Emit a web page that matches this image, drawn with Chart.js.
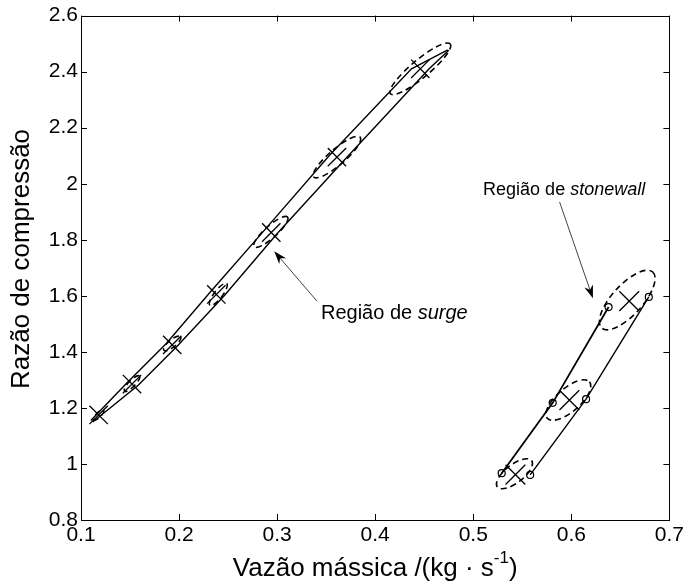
<!DOCTYPE html>
<html>
<head>
<meta charset="utf-8">
<script src="https://cdn.jsdelivr.net/npm/chart.js@4/dist/chart.umd.min.js"></script>
<style>
  html, body { margin: 0; padding: 0; background: #fff; }
</style>
</head>
<body>
<canvas id="chart" width="687" height="588"></canvas>
<script>
// ── Data ─────────────────────────────────────────────────────
const xTickValues = [0.1, 0.2, 0.3, 0.4, 0.5, 0.6, 0.7];
const yTickValues = [0.8, 1.0, 1.2, 1.4, 1.6, 1.8, 2.0, 2.2, 2.4, 2.6];

// surge region: two near-parallel lines
const surgeUpperX = [0.110, 0.147, 0.187, 0.231, 0.286, 0.353, 0.437, 0.474];
const surgeUpperY = [1.155, 1.290, 1.430, 1.610, 1.830, 2.100, 2.410, 2.478];
const surgeLowerX = [0.112, 0.158, 0.198, 0.246, 0.301, 0.370, 0.455, 0.475];
const surgeLowerY = [1.150, 1.280, 1.420, 1.600, 1.826, 2.090, 2.410, 2.476];
// surge region: estimated points (×)
const surgeCrossX = [0.118, 0.152, 0.193, 0.238, 0.294, 0.361, 0.446];
const surgeCrossY = [1.175, 1.285, 1.425, 1.605, 1.826, 2.095, 2.410];

// stonewall region: two lines with circles
const stoneLeftX  = [0.529, 0.581, 0.638];
const stoneLeftY  = [0.967, 1.218, 1.560];
const stoneRightX = [0.558, 0.615, 0.679];
const stoneRightY = [0.961, 1.231, 1.596];
const stoneCrossX = [0.543, 0.598, 0.659];
const stoneCrossY = [0.962, 1.228, 1.581];

// uncertainty ellipses: centre, half major axis (data units), minor/major ratio
const ellCx    = [0.118, 0.152, 0.193, 0.240, 0.2936, 0.361, 0.446, 0.542, 0.597, 0.657];
const ellCy    = [1.175, 1.287, 1.430, 1.605, 1.828, 2.095, 2.410, 0.965, 1.228, 1.585];
const ellAx    = [0.005, 0.0076, 0.0085, 0.0085, 0.017, 0.0237, 0.0305, 0.0175, 0.0215, 0.026];
const ellAy    = [0.017, 0.027, 0.024, 0.039, 0.053, 0.071, 0.089, 0.047, 0.065, 0.100];
const ellRatio = [0.35, 0.3, 0.35, 0.3, 0.27, 0.26, 0.23, 0.42, 0.42, 0.4];

// annotations
const noteText   = [['Região de ', 'surge'], ['Região de ', 'stonewall']];
const noteSize   = [20, 18];
const noteX      = [0.3447, 0.510];
const noteY      = [1.538, 1.976];
const arrowTailX = [0.3406, 0.588];
const arrowTailY = [1.581, 1.935];
const arrowHeadX = [0.297, 0.622];
const arrowHeadY = [1.759, 1.591];

const FONT = '"Liberation Sans", Arial, Helvetica, sans-serif';

const pts = (xs, ys) => xs.map((x, i) => ({ x, y: ys[i] }));

// ── Plugins ──────────────────────────────────────────────────

const frameTicks = {
  id: 'frameTicks',
  afterDraw(chart) {
    const { ctx, chartArea: a, scales: { x, y } } = chart;
    const len = 6;
    ctx.save();
    ctx.strokeStyle = '#000';
    ctx.lineWidth = 1;
    ctx.beginPath();
    xTickValues.forEach(v => {
      const px = Math.round(x.getPixelForValue(v)) + 0.5;
      ctx.moveTo(px, a.bottom); ctx.lineTo(px, a.bottom - len);
      ctx.moveTo(px, a.top);    ctx.lineTo(px, a.top + len);
    });
    yTickValues.forEach(v => {
      const py = Math.round(y.getPixelForValue(v)) + 0.5;
      ctx.moveTo(a.left, py);  ctx.lineTo(a.left + len, py);
      ctx.moveTo(a.right, py); ctx.lineTo(a.right - len, py);
    });
    ctx.stroke();
    ctx.strokeRect(Math.round(a.left) + 0.5, Math.round(a.top) + 0.5,
                   Math.round(a.right - a.left), Math.round(a.bottom - a.top));
    ctx.restore();
  },
};

const ellipses = {
  id: 'ellipses',
  afterDatasetsDraw(chart) {
    const { ctx, chartArea: a, scales: { x, y } } = chart;
    ctx.save();
    ctx.beginPath();
    ctx.rect(a.left, a.top, a.right - a.left, a.bottom - a.top);
    ctx.clip();
    ctx.strokeStyle = '#000';
    ctx.lineWidth = 1.6;
    ctx.setLineDash([6, 4]);
    ellCx.forEach((cx0, i) => {
      const cx = x.getPixelForValue(cx0);
      const cy = y.getPixelForValue(ellCy[i]);
      const dx = x.getPixelForValue(cx0 + ellAx[i]) - cx;
      const dy = y.getPixelForValue(ellCy[i] + ellAy[i]) - cy;
      const r = Math.hypot(dx, dy);
      ctx.beginPath();
      ctx.ellipse(cx, cy, r, r * ellRatio[i], Math.atan2(dy, dx), 0, Math.PI * 2);
      ctx.stroke();
    });
    ctx.restore();
  },
};

const notes = {
  id: 'notes',
  afterDraw(chart) {
    const { ctx, chartArea: a, scales: { x, y } } = chart;
    ctx.save();
    // arrows
    arrowTailX.forEach((tx0, i) => {
      const tx = x.getPixelForValue(tx0), ty = y.getPixelForValue(arrowTailY[i]);
      const hx = x.getPixelForValue(arrowHeadX[i]), hy = y.getPixelForValue(arrowHeadY[i]);
      const ang = Math.atan2(hy - ty, hx - tx);
      const hl = 13, hw = 4.5;
      ctx.strokeStyle = '#444';
      ctx.lineWidth = 1;
      ctx.beginPath();
      ctx.moveTo(tx, ty);
      ctx.lineTo(hx - Math.cos(ang) * hl * 0.7, hy - Math.sin(ang) * hl * 0.7);
      ctx.stroke();
      ctx.fillStyle = '#000';
      ctx.beginPath();
      ctx.moveTo(hx, hy);
      ctx.lineTo(hx - Math.cos(ang) * hl - Math.sin(ang) * hw, hy - Math.sin(ang) * hl + Math.cos(ang) * hw);
      ctx.lineTo(hx - Math.cos(ang) * hl * 0.7, hy - Math.sin(ang) * hl * 0.7);
      ctx.lineTo(hx - Math.cos(ang) * hl + Math.sin(ang) * hw, hy - Math.sin(ang) * hl - Math.cos(ang) * hw);
      ctx.closePath();
      ctx.fill();
    });
    // labels: plain part + italic part
    ctx.fillStyle = '#000';
    ctx.textBaseline = 'middle';
    ctx.textAlign = 'left';
    noteText.forEach(([plain, ital], i) => {
      let px = x.getPixelForValue(noteX[i]);
      const py = y.getPixelForValue(noteY[i]);
      ctx.font = `${noteSize[i]}px ${FONT}`;
      ctx.fillText(plain, px, py);
      px += ctx.measureText(plain).width;
      ctx.font = `italic ${noteSize[i]}px ${FONT}`;
      ctx.fillText(ital, px, py);
    });
    // x axis title with superscript
    const base = 'Vazão mássica /(kg · s', sup = '-1', tail = ')';
    ctx.font = `26px ${FONT}`;
    const w1 = ctx.measureText(base).width, w3 = ctx.measureText(tail).width;
    ctx.font = `17px ${FONT}`;
    const w2 = ctx.measureText(sup).width;
    let sx = (a.left + a.right) / 2 - (w1 + w2 + w3) / 2;
    const sy = 569;
    ctx.font = `26px ${FONT}`;
    ctx.fillText(base, sx, sy);
    sx += w1;
    ctx.font = `17px ${FONT}`;
    ctx.fillText(sup, sx, sy - 11);
    sx += w2;
    ctx.font = `26px ${FONT}`;
    ctx.fillText(tail, sx, sy);
    // y axis title
    ctx.translate(22, 259);
    ctx.rotate(-Math.PI / 2);
    ctx.textAlign = 'center';
    ctx.font = `26px ${FONT}`;
    ctx.fillText('Razão de compressão', 0, 0);
    ctx.restore();
  },
};

// ── Chart ────────────────────────────────────────────────────

const lineDs = (data, extra = {}) => Object.assign({
  data,
  showLine: true,
  borderColor: '#000',
  borderWidth: 1.4,
  pointRadius: 0,
  tension: 0,
  fill: false,
}, extra);

const markerDs = (data, style, radius, extra = {}) => Object.assign({
  data,
  showLine: false,
  pointStyle: style,
  pointRadius: radius,
  pointBorderColor: '#000',
  pointBackgroundColor: 'transparent',
  pointBorderWidth: 1.3,
}, extra);

new Chart(document.getElementById('chart'), {
  type: 'scatter',
  data: {
    datasets: [
      lineDs(pts(surgeUpperX, surgeUpperY)),
      lineDs(pts(surgeLowerX, surgeLowerY)),
      markerDs(pts(surgeCrossX, surgeCrossY), 'crossRot', 13),
      lineDs(pts(stoneLeftX, stoneLeftY), {
        borderWidth: 1.8, pointRadius: 3.5, pointStyle: 'circle',
        pointBorderColor: '#000', pointBackgroundColor: 'transparent', pointBorderWidth: 1.2,
      }),
      lineDs(pts(stoneRightX, stoneRightY), {
        pointRadius: 3.5, pointStyle: 'circle',
        pointBorderColor: '#000', pointBackgroundColor: 'transparent', pointBorderWidth: 1.2,
      }),
      markerDs(pts(stoneCrossX, stoneCrossY), 'crossRot', 14),
    ],
  },
  options: {
    responsive: false,
    devicePixelRatio: 1,
    animation: false,
    events: [],
    layout: { padding: { left: 0, top: 15, right: 15, bottom: 0 } },
    plugins: { legend: { display: false }, tooltip: { enabled: false } },
    scales: {
      x: {
        type: 'linear',
        min: 0.1, max: 0.7,
        afterBuildTicks: s => { s.ticks = xTickValues.map(value => ({ value })); },
        afterFit: s => { s.height = 68; },
        grid: { display: false, drawTicks: false },
        border: { display: false },
        ticks: {
          color: '#000', padding: 3,
          font: { family: FONT, size: 21 },
          maxRotation: 0,
          callback: v => String(+v.toFixed(1)),
        },
      },
      y: {
        type: 'linear',
        min: 0.8, max: 2.6,
        afterBuildTicks: s => { s.ticks = yTickValues.map(value => ({ value })); },
        afterFit: s => { s.width = 81; },
        grid: { display: false, drawTicks: false },
        border: { display: false },
        ticks: {
          color: '#000', padding: 3,
          font: { family: FONT, size: 21 },
          callback: v => String(+v.toFixed(1)),
        },
      },
    },
  },
  plugins: [ellipses, frameTicks, notes],
});
</script>
</body>
</html>
